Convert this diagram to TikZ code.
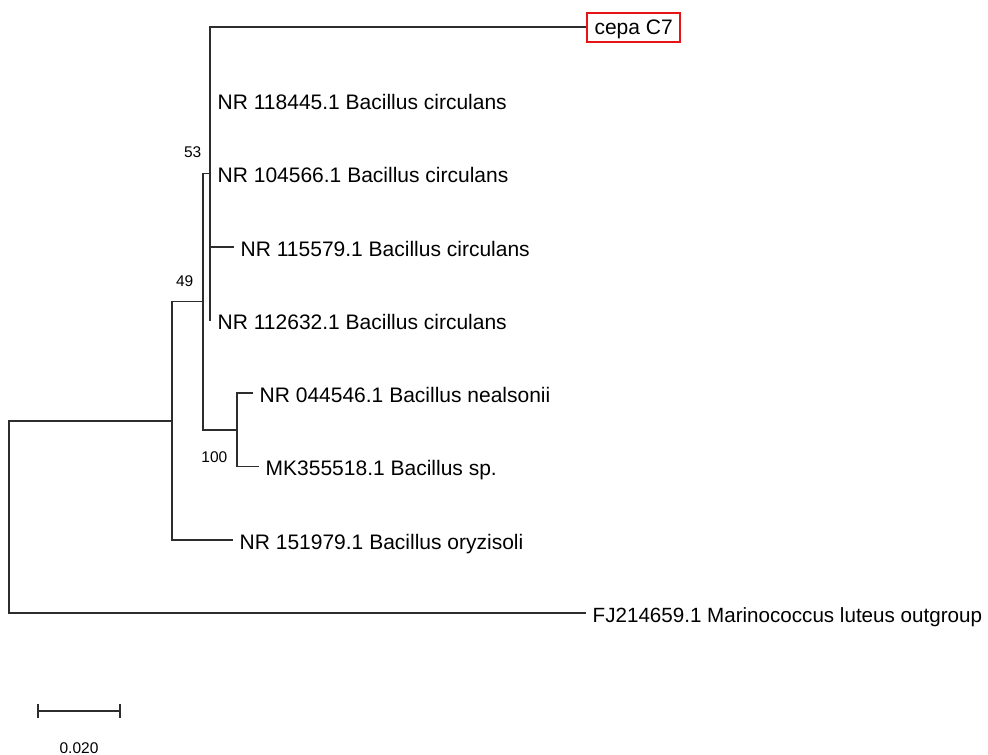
\documentclass[tikz,border=0pt]{standalone}
\usepackage{fontspec}
\setmainfont{Liberation Sans}
\definecolor{branch}{RGB}{45,45,45}
\definecolor{boxred}{RGB}{230,20,20}
\tikzset{
  branchline/.style={draw=branch, line width=1.4pt, line cap=rect},
  leaflabel/.style={anchor=base west, inner sep=0pt, xshift=7.5pt, yshift=-9pt, font=\fontsize{21}{25}\selectfont},
  bootlabel/.style={anchor=base east, inner sep=0pt, font=\fontsize{15.5}{18}\selectfont},
  highlightbox/.style={draw=boxred, line width=2pt, anchor=west, inner xsep=7.5pt, inner ysep=0pt,
    minimum height=29pt, text height=15pt, text depth=0pt, font=\fontsize{21}{25}\selectfont}
}
\begin{document}
\begin{tikzpicture}[x=1pt, y=-1pt]
\useasboundingbox (0,0) rectangle (988,755);
% internal nodes
\coordinate (root) at (9,517.5);
\coordinate (A) at (172,421);
\coordinate (B) at (203,301.5);
\coordinate (C) at (210,173.5);
\coordinate (D) at (237,430);
% leaf tips
\coordinate (tCepa) at (585,27);
\coordinate (t118445) at (210,100);
\coordinate (t104566) at (210,173.5);
\coordinate (t115579) at (233,247);
\coordinate (t112632) at (210,320);
\coordinate (t044546) at (252,393);
\coordinate (tMK) at (258,466.5);
\coordinate (tOry) at (232,540);
\coordinate (tOut) at (585,613);
% branches
\draw[branchline] (tCepa) -| (C) |- (t112632);
\draw[branchline] (C |- t115579) -- (t115579);
\draw[branchline] (C) -| (B) |- (D);
\draw[branchline] (t044546) -| (D) |- (tMK);
\draw[branchline] (B) -| (A) |- (tOry);
\draw[branchline] (A) -| (root) |- (tOut);
% leaf labels
\node[highlightbox] (lCepa) at ([xshift=1pt]tCepa) {cepa C7};
\node[leaflabel] (l118445) at (t118445) {NR 118445.1 Bacillus circulans};
\node[leaflabel] (l104566) at (t104566) {NR 104566.1 Bacillus circulans};
\node[leaflabel] (l115579) at (t115579) {NR 115579.1 Bacillus circulans};
\node[leaflabel] (l112632) at (t112632) {NR 112632.1 Bacillus circulans};
\node[leaflabel] (l044546) at (t044546) {NR 044546.1 Bacillus nealsonii};
\node[leaflabel] (lMK) at (tMK) {MK355518.1 Bacillus sp.};
\node[leaflabel] (lOry) at (tOry) {NR 151979.1 Bacillus oryzisoli};
\node[leaflabel, font=\fontsize{20.6}{25}\selectfont] (lOut) at (tOut) {FJ214659.1 Marinococcus luteus outgroup};
% bootstrap values
\node[bootlabel] (b53) at (201.5,157) {53};
\node[bootlabel] (b49) at (193.5,286) {49};
\node[bootlabel] (b100) at (227.5,462) {100};
% scale bar
\coordinate (sL) at (38,711);
\coordinate (sR) at (120,711);
\draw[branchline] (sL) -- (sR);
\draw[branchline] ([yshift=6pt]sL) -- ([yshift=-6pt]sL);
\draw[branchline] ([yshift=6pt]sR) -- ([yshift=-6pt]sR);
\node[anchor=base, inner sep=0pt, font=\fontsize{15.5}{18}\selectfont] (scaletext) at (79,753) {0.020};
\end{tikzpicture}
\end{document}
